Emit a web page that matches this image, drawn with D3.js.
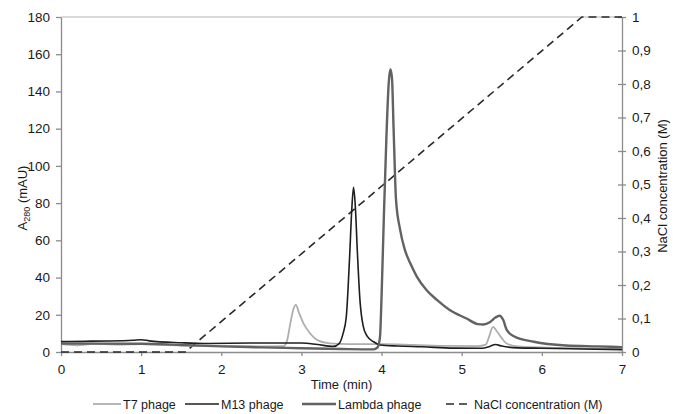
<!DOCTYPE html>
<html>
<head>
<meta charset="utf-8">
<script src="https://cdn.jsdelivr.net/npm/d3@7"></script>
<style>
  body { margin: 0; background: #fff; }
  text { font-family: "Liberation Sans", Arial, sans-serif; fill: #1a1a1a; }
</style>
</head>
<body>
<div class="plot"></div>
<script>
// [time (min), A280 (mAU)]
const t7Phage = [[0,4.2],[0.2,3.6],[0.4,4.4],[0.7,4.0],[1.0,4.3],[1.3,3.8],[1.6,3.4],[2.0,3.2],[2.5,3.0],[2.78,3.2],
  [2.82,6],[2.86,15],[2.9,23],[2.93,25.3],[2.97,21],[3.03,15],[3.1,10.5],[3.2,6.4],[3.35,4.6],[3.6,4.2],[4.0,4.2],
  [4.4,3.8],[4.8,3.3],[5.2,3.2],[5.3,4],[5.34,8],[5.39,13.5],[5.44,11],[5.49,8],[5.56,4.6],[5.7,3],[6.2,2.2],[7,1.8]];

const m13Phage = [[0,5.6],[0.3,5.8],[0.6,5.9],[0.9,6.3],[1.0,6.6],[1.1,6.0],[1.5,5.0],[1.8,4.6],[2.4,4.8],[3.0,4.8],
  [3.2,4.0],[3.4,3.0],[3.47,4.5],[3.52,10],[3.56,19],[3.6,50],[3.63,78],[3.65,88.5],[3.67,80],[3.7,52],[3.73,28],
  [3.77,14],[3.82,8.5],[3.9,5.5],[3.98,3.8],[4.2,3.2],[4.5,2.8],[4.9,2.1],[5.25,2.0],[5.35,3],[5.42,4],[5.5,3.2],
  [5.7,2.2],[6.0,2.0],[6.5,1.6],[7,1.3]];

const lambdaPhage = [[0,4.6],[0.5,4.5],[1.0,4.4],[1.5,3.8],[2.0,3.0],[2.5,2.5],[3.0,2.0],[3.5,1.6],[3.9,1.4],
  [3.95,2.5],[3.98,8],[4.0,30],[4.03,75],[4.06,115],[4.09,145],[4.11,152],[4.13,147],[4.15,120],[4.18,82],
  [4.23,66],[4.29,55],[4.36,47.5],[4.44,40.5],[4.56,33.3],[4.69,28],[4.85,22.6],[5.06,18],[5.2,15],[5.27,14.8],
  [5.35,16],[5.42,18.5],[5.47,19.5],[5.52,17],[5.56,12],[5.65,8.5],[5.9,5.5],[6.3,3.5],[6.7,3],[7,2.6]];

// [time (min), NaCl (M)]
const naclGradient = [[0,0],[1.55,0],[6.5,1],[7,1]];

const timeTicks = [0,1,2,3,4,5,6,7];
const absTicks = [0,20,40,60,80,100,120,140,160,180];
const naclTicks = [0,0.1,0.2,0.3,0.4,0.5,0.6,0.7,0.8,0.9,1];

const W = 678, H = 414;
const margin = { top: 17, right: 56, bottom: 62, left: 61 };

const svg = d3.select(".plot").append("svg")
  .attr("width", W).attr("height", H);

const x = d3.scaleLinear().domain([0, 7]).range([margin.left, W - margin.right]);
const y = d3.scaleLinear().domain([0, 180]).range([H - margin.bottom, margin.top]);
const y2 = d3.scaleLinear().domain([0, 1]).range([H - margin.bottom, margin.top]);

const axisColor = "#8c8c8c";

// top border line
svg.append("line")
  .attr("x1", x(0)).attr("x2", x(7))
  .attr("y1", y(180)).attr("y2", y(180))
  .attr("stroke", "#b5b5b5").attr("stroke-width", 1);

function styleAxis(g) {
  g.selectAll("path, line").attr("stroke", axisColor).attr("stroke-width", 1.3);
  g.selectAll("text").style("font-size", "13.5px").style("font-family", "Liberation Sans, Arial, sans-serif").attr("fill", "#1a1a1a");
}

svg.append("g")
  .attr("transform", `translate(0, ${y(0)})`)
  .call(d3.axisBottom(x).tickValues(timeTicks).tickSize(4).tickSizeOuter(0).tickPadding(8)
    .tickFormat(d3.format("d")))
  .call(styleAxis);

svg.append("g")
  .attr("transform", `translate(${x(0)}, 0)`)
  .call(d3.axisLeft(y).tickValues(absTicks).tickSize(5).tickSizeOuter(0).tickPadding(6))
  .call(styleAxis);

const rightAxis = svg.append("g")
  .attr("transform", `translate(${x(7)}, 0)`)
  .call(d3.axisRight(y2).tickValues(naclTicks).tickSize(4).tickSizeOuter(0).tickPadding(6)
    .tickFormat(d => d3.format(".1~f")(d).replace(".", ",")))
  .call(styleAxis);
rightAxis.selectAll(".tick line").attr("x1", -4);

// series
const line = d3.line().curve(d3.curveMonotoneX)
  .x(d => x(d[0])).y(d => y(d[1]));
const line2 = d3.line()
  .x(d => x(d[0])).y(d => y2(d[1]));

const series = [
  { name: "T7 phage", data: t7Phage, color: "#aeaeae", width: 1.8 },
  { name: "M13 phage", data: m13Phage, color: "#1e1e1e", width: 1.6 },
  { name: "Lambda phage", data: lambdaPhage, color: "#626262", width: 2.4 }
];

svg.append("path").datum(naclGradient)
  .attr("d", line2).attr("fill", "none")
  .attr("stroke", "#2a2a2a").attr("stroke-width", 1.6)
  .attr("stroke-dasharray", "8,5");

series.forEach(s => {
  svg.append("path").datum(s.data)
    .attr("d", line).attr("fill", "none")
    .attr("stroke", s.color).attr("stroke-width", s.width)
    .attr("stroke-linejoin", "round");
});

// axis titles
const yTitle = svg.append("text")
  .attr("transform", `translate(27, 198) rotate(-90)`)
  .attr("text-anchor", "middle")
  .style("font-size", "13px");
yTitle.append("tspan").text("A");
yTitle.append("tspan").attr("dy", 3).style("font-size", "9px").text("280");
yTitle.append("tspan").attr("dy", -3).text(" (mAU)");

svg.append("text")
  .attr("transform", `translate(667, 186) rotate(-90)`)
  .attr("text-anchor", "middle")
  .style("font-size", "13px")
  .text("NaCl concentration (M)");

svg.append("text")
  .attr("x", x(3.5)).attr("y", 389)
  .attr("text-anchor", "middle")
  .style("font-size", "13px")
  .text("Time (min)");

// legend
const legendItems = [
  { name: "T7 phage", color: "#aeaeae", width: 1.8, dash: null, x0: 93, x1: 121 },
  { name: "M13 phage", color: "#1e1e1e", width: 1.6, dash: null, x0: 185, x1: 219 },
  { name: "Lambda phage", color: "#626262", width: 2.4, dash: null, x0: 302, x1: 336 },
  { name: "NaCl concentration (M)", color: "#2a2a2a", width: 1.6, dash: "8,5", x0: 446, x1: 472 }
];
const legendY = 404;
legendItems.forEach(it => {
  svg.append("line")
    .attr("x1", it.x0).attr("x2", it.x1)
    .attr("y1", legendY).attr("y2", legendY)
    .attr("stroke", it.color).attr("stroke-width", it.width)
    .attr("stroke-dasharray", it.dash);
  svg.append("text")
    .attr("x", it.x1 + 2).attr("y", legendY + 4.5)
    .style("font-size", "12.5px")
    .text(it.name);
});
</script>
</body>
</html>
